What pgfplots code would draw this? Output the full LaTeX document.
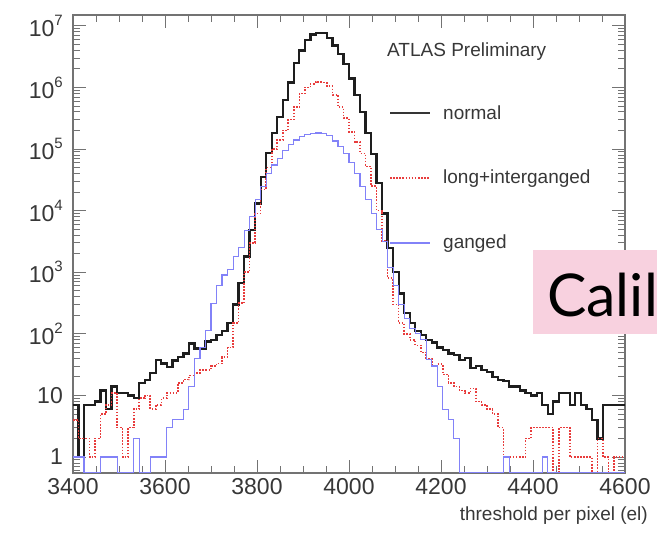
\documentclass[border=0pt]{standalone}
\usepackage{fontspec}
\setmainfont{Liberation Sans}
\newfontfamily\gill{Lato}
\usepackage{pgfplots}
\usepackage{pgfplotstable}
\pgfplotsset{compat=1.18}
\definecolor{hblack}{RGB}{30,30,30}
\definecolor{hred}{RGB}{232,60,60}
\definecolor{hblue}{RGB}{130,130,248}
\definecolor{pinkbox}{RGB}{248,209,223}
\definecolor{txt}{RGB}{55,55,55}
\definecolor{framec}{RGB}{115,115,115}
\newcommand\e[1]{10\raisebox{11pt}{\fontsize{15}{15}\selectfont #1}}

\pgfplotstableread{
x b r g
3400 7 4 1
3412 1 2 1
3424 7 2 0.55
3436 7 1 0.55
3448 8 2 0.55
3460 12 5 1
3472 6 7 1
3484 14 11 1
3496 11 3 0.55
3508 11 1 0.55
3520 10 3 0.55
3532 9 6 2
3544 16 9 0.55
3556 18 10 0.55
3568 23 6 1
3580 38 7 1
3592 33 9 1
3604 29 11 3
3616 37 11 4
3628 42 16 4
3640 48 18 6
3652 70 21 14
3664 58 23 40
3676 58 26 60
3688 75 26 115
3700 79 30 315
3712 95 33 600
3724 110 42 900
3736 150 60 1100
3748 300 150 1800
3760 660 313 2500
3772 1800 1000 4800
3784 4800 3000 8000
3796 13000 9000 15000
3808 35000 22000 25000
3820 86000 50000 40000
3832 180000 100000 55000
3844 330000 140000 70000
3856 630000 200000 95000
3868 1200000 300000 120000
3880 2500000 480000 140000
3892 4000000 800000 160000
3904 5900000 1000000 175000
3916 7200000 1150000 180000
3928 7700000 1230000 182000
3940 7600000 1200000 178000
3952 6300000 1050000 165000
3964 4800000 760000 135000
3976 3500000 480000 110000
3988 2400000 320000 85000
4000 1400000 190000 60000
4012 760000 130000 40000
4024 400000 85000 25000
4036 180000 52000 15000
4048 83000 25000 9000
4060 28000 10000 5000
4072 9000 3200 3200
4084 2500 800 1200
4096 1000 300 600
4108 450 150 300
4120 220 100 180
4132 150 80 120
4144 110 65 100
4156 95 50 80
4168 80 40 38
4180 72 30 30
4192 60 32 14
4204 55 22 6
4216 48 16 4
4228 45 14 2
4240 38 12 0.55
4252 40 11 0.55
4264 28 13 0.55
4276 30 8 0.55
4288 26 7 0.55
4300 24 6 0.55
4312 20 5 0.55
4324 18 3 0.55
4336 17 1 1
4348 14 1 0.55
4360 14 1 0.55
4372 12 1 0.55
4384 11 2 0.55
4396 10 3 0.55
4408 11 3 0.55
4420 7 3 1
4432 5 3 0.55
4444 8 0.55 0.55
4456 11 3 0.55
4468 11 3 0.55
4480 7 1 0.55
4492 11 1 0.55
4504 7 1 0.55
4516 6 1 0.55
4528 4 0.55 0.55
4540 2 2 0.55
4552 7 1 0.55
4564 7 0.55 0.55
4576 7 1 0.55
4588 7 1 0.55
4600 7 1 0.55
}\hist

\begin{document}
\begin{tikzpicture}[x=1pt,y=1pt]
\path[use as bounding box] (0,0) rectangle (657,533);
\begin{axis}[
  at={(73pt,60pt)}, anchor=south west,
  scale only axis, width=552pt, height=458pt,
  xmin=3400, xmax=4600,
  ymode=log, ymin=0.55, ymax=1.5e7,
  xtick={3400,3600,3800,4000,4200,4400,4600},
  xticklabels={3400,3600,3800,4000,4200,4400,4600},
  minor x tick num=3,
  ytick={1,10,100,1000,10000,100000,1000000,10000000},
  yticklabels={1,10,\e{2},\e{3},\e{4},\e{5},\e{6},\e{7}},
  minor ytick={0.6,0.7,0.8,0.9,2,3,4,5,6,7,8,9,20,30,40,50,60,70,80,90,200,300,400,500,600,700,800,900,2000,3000,4000,5000,6000,7000,8000,9000,20000,30000,40000,50000,60000,70000,80000,90000,200000,300000,400000,500000,600000,700000,800000,900000,2000000,3000000,4000000,5000000,6000000,7000000,8000000,9000000},
  tick align=inside,
  major tick length=13pt, minor tick length=7pt,
  tick style={framec, line width=0.9pt},
  axis line style={framec, line width=1.1pt},
  every tick label/.append style={inner sep=0pt, text=txt, font=\fontsize{23}{23}\selectfont},
  xticklabel style={yshift=-5pt},
  yticklabel style={xshift=-10pt},
  clip=true,
]
\addplot[const plot, hblack, line width=2.3pt] table[x=x,y=b]{\hist};
\addplot[const plot, hred, line width=1.6pt, dash pattern=on 1.6pt off 1.5pt] table[x=x,y=r]{\hist};
\addplot[const plot, hblue, line width=1.1pt] table[x=x,y=g]{\hist};
\end{axis}

% texts and legend
\node[anchor=base west, inner sep=0pt, text=txt, font=\fontsize{19}{19}\selectfont] at (387,476) {ATLAS Preliminary};
\draw[hblack!90, line width=2.6pt] (390,420) -- (430,420);
\node[anchor=base west, inner sep=0pt, text=txt, font=\fontsize{19}{19}\selectfont] at (443,413) {normal};
\draw[hred, line width=1.6pt, dash pattern=on 1.6pt off 1.5pt] (390,355) -- (430,355);
\node[anchor=base west, inner sep=0pt, text=txt, font=\fontsize{19}{19}\selectfont] at (443,349) {long+interganged};
\draw[hblue, line width=1.1pt] (390,290) -- (430,290);
\node[anchor=base west, inner sep=0pt, text=txt, font=\fontsize{19}{19}\selectfont] at (443,284) {ganged};
\node[anchor=base east, inner sep=0pt, text=txt, font=\fontsize{19}{19}\selectfont] at (648,12) {threshold per pixel (el)};

\begin{scope}
\clip (0,0) rectangle (657,533);
\fill[pinkbox] (533,199) rectangle (670,283);
\node[anchor=base west, inner sep=0pt, text=black, font=\gill\fontsize{59}{59}\selectfont] at (547,216) {Calil};
\end{scope}
\end{tikzpicture}
\end{document}
